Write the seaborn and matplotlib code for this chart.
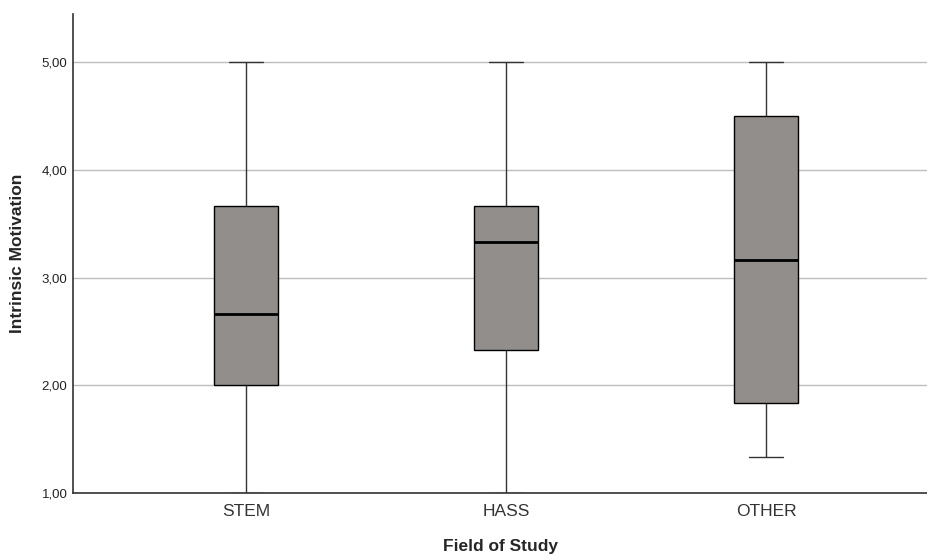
import pandas as pd
import numpy as np
import matplotlib
matplotlib.use("Agg")
import matplotlib.pyplot as plt
import seaborn as sns

# five-number summaries (min, q1, median, q3, max)
fields = ["STEM", "HASS", "OTHER"]
stem = [1.00, 2.00, 2.667, 3.667, 5.00]
hass = [1.00, 2.333, 3.333, 3.667, 5.00]
other = [1.333, 1.833, 3.167, 4.50, 5.00]
yticks = [1, 2, 3, 4, 5]
ytick_labels = ["1,00", "2,00", "3,00", "4,00", "5,00"]

df = pd.DataFrame({
    "Field of Study": np.repeat(fields, 5),
    "Intrinsic Motivation": stem + hass + other,
})

sns.set_style("white")
plt.rcParams["font.family"] = ["Liberation Sans", "DejaVu Sans"]

fig = plt.figure(figsize=(9.28, 5.56), dpi=100)
ax = fig.add_axes([0.0787, 0.1133, 0.9213, 0.8615])

ax.set_axisbelow(True)
ax.yaxis.grid(True, color="#bdbdbd", linewidth=1)
ax.set_ylim(1, 5.45)

sns.boxplot(data=df, x="Field of Study", y="Intrinsic Motivation", order=fields,
            color="#928e8c", saturation=1, width=0.246, whis=(0, 100),
            linecolor="black", linewidth=1,
            medianprops={"linewidth": 2, "color": "black"},
            whiskerprops={"color": "#333333"}, capprops={"color": "#333333"},
            ax=ax)

# narrower caps like the original
for line in ax.lines:
    xd = line.get_xdata()
    yd = line.get_ydata()
    if len(xd) == 2 and yd[0] == yd[1] and 0 < abs(xd[1] - xd[0]) < 0.2:
        c = (xd[0] + xd[1]) / 2
        line.set_xdata([c - 0.066, c + 0.066])

ax.set_xlim(-0.665, 2.623)
ax.set_yticks(yticks)
ax.set_yticklabels(ytick_labels, fontsize=9.5)
ax.tick_params(axis="y", length=0, pad=4, colors="#222222")
ax.tick_params(axis="x", length=0, pad=8, labelsize=12.5, colors="#333333")
for sp in ["top", "right"]:
    ax.spines[sp].set_visible(False)
for sp in ["left", "bottom"]:
    ax.spines[sp].set_color("#333333")
    ax.spines[sp].set_linewidth(1.2)

ax.set_ylabel("Intrinsic Motivation", fontsize=12.5, fontweight="bold", labelpad=12)
ax.set_xlabel("Field of Study", fontsize=12.5, fontweight="bold", labelpad=14)

fig.savefig("out.png", dpi=100)
